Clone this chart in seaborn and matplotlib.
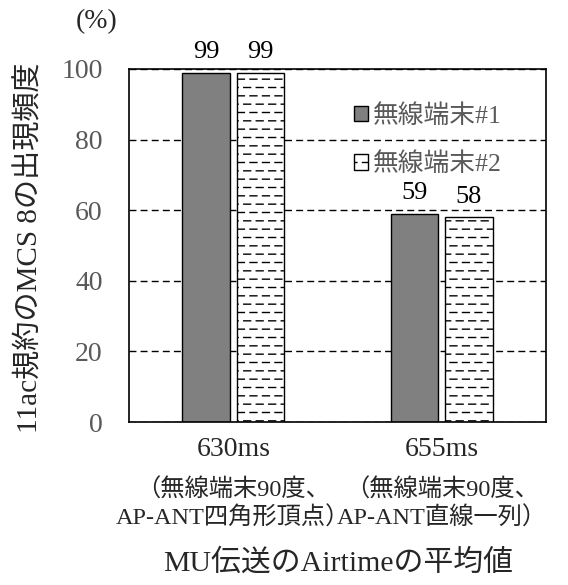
import numpy as np
import pandas as pd
import seaborn as sns
import matplotlib
import matplotlib.pyplot as plt
import matplotlib.hatch as mhatch
from matplotlib.path import Path

matplotlib.use('Agg')

# -------------------------------Datos
categorias = ['630ms', '655ms']
detalles = ['（無線端末90度、\nAP-ANT四角形頂点）',
            '（無線端末90度、\nAP-ANT直線一列）']
series = ['無線端末#1', '無線端末#2']
valores_1 = [99, 59]
valores_2 = [99, 58]
yticks = [0, 20, 40, 60, 80, 100]

ylabel = '11ac規約のMCS 8の出現頻度'
xlabel = 'MU伝送のAirtimeの平均値'
unidad = '(%)'


# Hatch de guiones escalonados (como el relleno de Excel)
class DashedHatch(mhatch.HorizontalHatch):
    n_dash = 8

    def __init__(self, hatch, density):
        super().__init__(hatch, density)
        self.num_vertices = self.num_lines * self.n_dash * 2

    def set_vertices_and_codes(self, vertices, codes):
        ys = (np.arange(self.num_lines) + 0.5) / self.num_lines
        xs = np.arange(self.n_dash) / self.n_dash
        yy, xx = np.meshgrid(ys, xs, indexing='ij')
        # desplazar filas alternas medio periodo
        xx = (xx + (np.arange(self.num_lines)[:, None] % 2) * 0.5 / self.n_dash)
        vertices[0::2, 0] = xx.ravel()
        vertices[0::2, 1] = yy.ravel()
        vertices[1::2, 0] = xx.ravel() + 0.55 / self.n_dash
        vertices[1::2, 1] = yy.ravel()
        codes[0::2] = Path.MOVETO
        codes[1::2] = Path.LINETO


mhatch._hatch_types = [DashedHatch if t is mhatch.HorizontalHatch else t
                       for t in mhatch._hatch_types]

sns.set_style("white")
plt.rcParams['font.family'] = ['Liberation Serif', 'Noto Sans CJK JP']
plt.rcParams['hatch.linewidth'] = 1.0

df = pd.DataFrame({
    'Categoria': categorias * 2,
    'Serie': [series[0]] * 2 + [series[1]] * 2,
    'Valor': valores_1 + valores_2,
})

fig = plt.figure(figsize=(5.68, 5.85), dpi=100)
ax = fig.add_axes([129 / 568, 1 - 422 / 585, 417 / 568, 353 / 585])

sns.barplot(data=df, x='Categoria', y='Valor', hue='Serie', ax=ax,
            palette={series[0]: '#808080', series[1]: 'white'},
            width=0.52, gap=0.12, edgecolor='black', linewidth=1.0,
            legend=False)

for patch in ax.containers[1].patches:
    patch.set_hatch('--')

for cont in ax.containers:
    ax.bar_label(cont, padding=7, fontsize=19, color='black')

ax.set_xlim(-0.5, 1.5)
ax.set_ylim(0, 100)
ax.set_yticks(yticks)
ax.yaxis.grid(True, linestyle=(0, (5, 3)), color='black', linewidth=1.0)
ax.set_axisbelow(True)
ax.tick_params(axis='both', length=0)
ax.tick_params(axis='y', labelsize=20, labelcolor='#595959', pad=19)
ax.tick_params(axis='x', labelsize=20, pad=11)
ax.set_xlabel('')
ax.set_ylabel('')
for s in ax.spines.values():
    s.set_color('black')
    s.set_linewidth(1.2)

# lineas de detalle bajo cada categoria
for i, det in enumerate(detalles):
    ax.annotate(det, xy=(i, 0), xycoords=('data', 'axes fraction'),
                xytext=(0, -59), textcoords='offset points',
                ha='center', va='center', fontsize=17.5, linespacing=1.25)

ax.legend(ax.containers, series, loc='upper left',
          bbox_to_anchor=(341 / 568, 1 - 91 / 585),
          bbox_transform=fig.transFigure, frameon=False, fontsize=18.5,
          labelcolor='#595959', handlelength=0.55, handleheight=0.55,
          handletextpad=0.2, labelspacing=0.95, borderpad=0)

fig.text(97 / 568, 1 - 22 / 585, unidad, ha='center', va='center', fontsize=20)
fig.text(30 / 568, 1 - 248 / 585, ylabel, rotation=90, ha='center', va='center',
         fontsize=21)
fig.text(338 / 568, 1 - 563 / 585, xlabel, ha='center', va='center', fontsize=21.5)

plt.savefig('out.png', dpi=100)
